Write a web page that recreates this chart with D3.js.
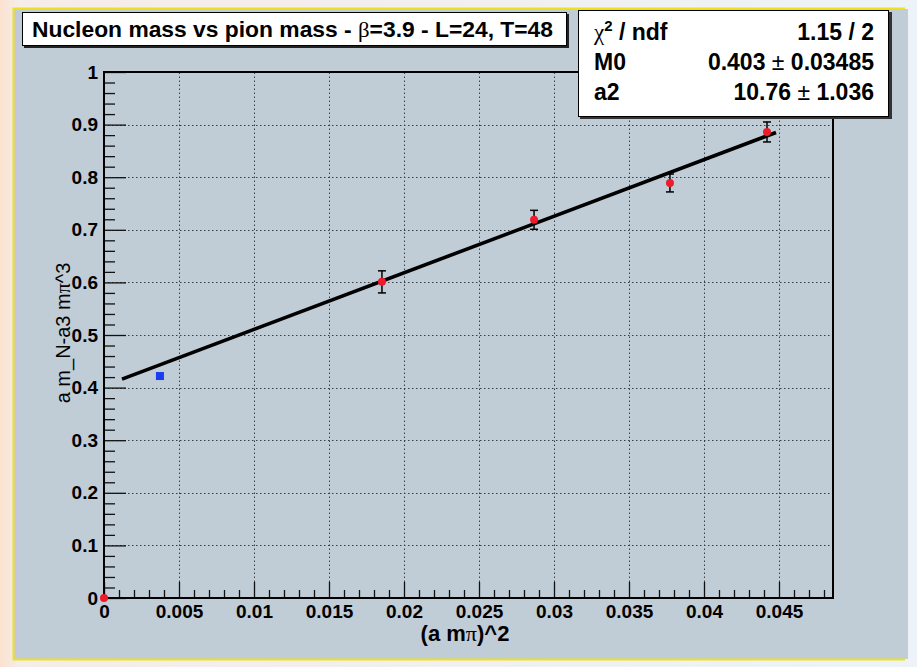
<!DOCTYPE html>
<html>
<head>
<meta charset="utf-8">
<script src="https://cdn.jsdelivr.net/npm/d3@7"></script>
<style>
  body { margin: 0; overflow: hidden; }
  text { font-family: "Liberation Sans", Arial, Helvetica, sans-serif; }
</style>
</head>
<body>
<div id="chart"></div>
<script>
// data
const xTicks = [0, 0.005, 0.01, 0.015, 0.02, 0.025, 0.03, 0.035, 0.04, 0.045]
const xTickLabels = ['0', '0.005', '0.01', '0.015', '0.02', '0.025', '0.03', '0.035', '0.04', '0.045']
const yTicks = [0, 0.1, 0.2, 0.3, 0.4, 0.5, 0.6, 0.7, 0.8, 0.9, 1]
const yTickLabels = ['0', '0.1', '0.2', '0.3', '0.4', '0.5', '0.6', '0.7', '0.8', '0.9', '1']

const redX = [0, 0.01853, 0.02867, 0.03773, 0.0442]
const redY = [0, 0.601, 0.719, 0.789, 0.886]
const redErr = [0, 0.021, 0.018, 0.017, 0.019]

const blueX = [0.00373]
const blueY = [0.422]

// fit line end points
const fitX = [0.0012, 0.0448]
const fitY = [0.416, 0.885]

const statNames = ['χ', 'M0', 'a2']
const statValues = ['1.15 / 2', '0.403', '10.76']
const statErrors = ['', '0.03485', '1.036']

const W = 917, H = 667
const svg = d3.select('#chart').append('svg').attr('width', W).attr('height', H)

// page background
const grad = svg.append('defs').append('linearGradient').attr('id', 'bg')
grad.append('stop').attr('offset', '0%').attr('stop-color', '#fbe2cf')
grad.append('stop').attr('offset', '2%').attr('stop-color', '#f6ece8')
grad.append('stop').attr('offset', '100%').attr('stop-color', '#edf3f8')
svg.append('rect').attr('width', W).attr('height', H).attr('fill', 'url(#bg)')

// canvas
svg.append('rect').attr('x', 14).attr('y', 9).attr('width', 894).attr('height', 650).attr('fill', '#c0ccd6')
svg.append('rect').attr('x', 15).attr('y', 10).attr('width', 3).attr('height', 648).attr('fill', '#c4c6e2')
svg.append('path')
    .attr('d', 'M905,8.5 H13.5 V659.5 H905')
    .attr('fill', 'none').attr('stroke', '#eee21c').attr('stroke-width', 2)

const x = d3.scaleLinear().domain([0, 0.0486]).range([104, 833])
const y = d3.scaleLinear().domain([0, 1]).range([598, 72])

// grid
const grid = svg.append('g').attr('stroke', '#3a3f44').attr('stroke-width', 1).attr('stroke-dasharray', '1.5,2.5')
grid.selectAll('.gx').data(xTicks.slice(1)).enter().append('line')
    .attr('x1', d => Math.round(x(d)) + 0.5).attr('x2', d => Math.round(x(d)) + 0.5)
    .attr('y1', y(0)).attr('y2', y(1))
grid.selectAll('.gy').data(yTicks.slice(1, -1)).enter().append('line')
    .attr('y1', d => Math.round(y(d)) + 0.5).attr('y2', d => Math.round(y(d)) + 0.5)
    .attr('x1', x.range()[0]).attr('x2', x.range()[1])

// minor ticks
const xMinor = d3.range(0, 0.0486, 0.001).filter(v => Math.abs(v / 0.005 - Math.round(v / 0.005)) > 1e-6)
const yMinor = d3.range(0, 1, 0.02).filter(v => Math.abs(v / 0.1 - Math.round(v / 0.1)) > 1e-6)

svg.append('g').attr('transform', 'translate(0,' + y(0) + ')')
    .call(d3.axisBottom(x).tickValues(xMinor).tickSizeInner(-8).tickSizeOuter(0).tickFormat(''))
svg.append('g').attr('transform', 'translate(' + x(0) + ',0)')
    .call(d3.axisLeft(y).tickValues(yMinor).tickSizeInner(-11).tickSizeOuter(0).tickFormat(''))

svg.append('g').attr('transform', 'translate(0,' + y(0) + ')')
    .call(d3.axisBottom(x).tickValues(xTicks).tickSizeInner(-16).tickSizeOuter(0).tickPadding(7)
        .tickFormat((d, i) => xTickLabels[i]))
svg.append('g').attr('transform', 'translate(' + x(0) + ',0)')
    .call(d3.axisLeft(y).tickValues(yTicks).tickSizeInner(-22).tickSizeOuter(0).tickPadding(6)
        .tickFormat((d, i) => yTickLabels[i]))

svg.selectAll('.tick line').attr('stroke', '#111').attr('stroke-width', 1.3)
svg.selectAll('.domain').attr('stroke', 'none')
svg.selectAll('.tick text').attr('fill', '#000').style('font-size', '19px').style('font-weight', 'bold')
    .style('font-family', '"Liberation Sans", Arial, sans-serif')

// frame
svg.append('rect')
    .attr('x', x.range()[0]).attr('y', y.range()[1])
    .attr('width', x.range()[1] - x.range()[0]).attr('height', y.range()[0] - y.range()[1])
    .attr('fill', 'none').attr('stroke', '#000').attr('stroke-width', 2)

// fit line
svg.append('path')
    .datum(fitX.map((v, i) => [v, fitY[i]]))
    .attr('d', d3.line().x(d => x(d[0])).y(d => y(d[1])))
    .attr('stroke', '#000').attr('stroke-width', 3.6).attr('fill', 'none')

// error bars
const pts = redX.map((v, i) => ({ x: v, y: redY[i], e: redErr[i] }))
const eb = svg.append('g').attr('stroke', '#000').attr('stroke-width', 1.5)
pts.filter(d => d.e > 0).forEach(d => {
    eb.append('line').attr('x1', x(d.x)).attr('x2', x(d.x)).attr('y1', y(d.y - d.e)).attr('y2', y(d.y + d.e))
    eb.append('line').attr('x1', x(d.x) - 4).attr('x2', x(d.x) + 4).attr('y1', y(d.y - d.e)).attr('y2', y(d.y - d.e))
    eb.append('line').attr('x1', x(d.x) - 4).attr('x2', x(d.x) + 4).attr('y1', y(d.y + d.e)).attr('y2', y(d.y + d.e))
})

svg.selectAll('.red').data(pts).enter().append('circle')
    .attr('cx', d => x(d.x)).attr('cy', d => y(d.y)).attr('r', 4)
    .attr('fill', '#ec1c2a')

svg.selectAll('.blue').data(blueX).enter().append('rect')
    .attr('x', (d, i) => x(d) - 4).attr('y', (d, i) => y(blueY[i]) - 4)
    .attr('width', 8).attr('height', 8).attr('fill', '#1a3cf0')

// axis titles
const pi = '<tspan style="font-family:\'Liberation Serif\',serif;font-weight:normal">π</tspan>'
svg.append('text').attr('x', 465).attr('y', 641).attr('text-anchor', 'middle')
    .style('font-size', '22px').style('font-weight', 'bold')
    .html('(a m' + pi + ')^2')

svg.append('text').attr('transform', 'translate(70,333) rotate(-90)').attr('text-anchor', 'middle')
    .style('font-size', '20px')
    .html('a m_N-a3 m' + pi + '^3')

// title box
svg.append('rect').attr('x', 24).attr('y', 14).attr('width', 545).attr('height', 34).attr('fill', '#222')
svg.append('rect').attr('x', 22.5).attr('y', 12.5).attr('width', 544).attr('height', 33)
    .attr('fill', '#fff').attr('stroke', '#000').attr('stroke-width', 1)
svg.append('text').attr('x', 32).attr('y', 37)
    .attr('textLength', 521).attr('lengthAdjust', 'spacingAndGlyphs')
    .style('font-size', '22px').style('font-weight', 'bold')
    .html('Nucleon mass vs pion mass - <tspan style="font-family:\'Liberation Serif\',serif;font-weight:normal">β</tspan>=3.9 - L=24, T=48')

// stats box
svg.append('rect').attr('x', 580).attr('y', 12).attr('width', 312).attr('height', 107).attr('fill', '#333')
svg.append('rect').attr('x', 578.5).attr('y', 10.5).attr('width', 310).attr('height', 106)
    .attr('fill', '#fff').attr('stroke', '#000').attr('stroke-width', 1)

const rowY = [40, 70, 100]
const st = svg.append('g').style('font-size', '23px').style('font-weight', 'bold')
st.append('text').attr('x', 594).attr('y', rowY[0])
    .html('<tspan style="font-family:\'Liberation Serif\',serif;font-weight:normal">' + statNames[0] +
        '</tspan><tspan dy="-9" style="font-size:15px">2</tspan><tspan dy="9"> / ndf</tspan>')
statNames.slice(1).forEach((n, i) => {
    st.append('text').attr('x', 594).attr('y', rowY[i + 1]).text(n)
})
statValues.forEach((v, i) => {
    const t = st.append('text').attr('x', 874).attr('y', rowY[i]).attr('text-anchor', 'end')
    if (statErrors[i]) {
        t.html(v + ' <tspan style="font-weight:normal">±</tspan> ' + statErrors[i])
    } else {
        t.text(v)
    }
})
</script>
</body>
</html>
